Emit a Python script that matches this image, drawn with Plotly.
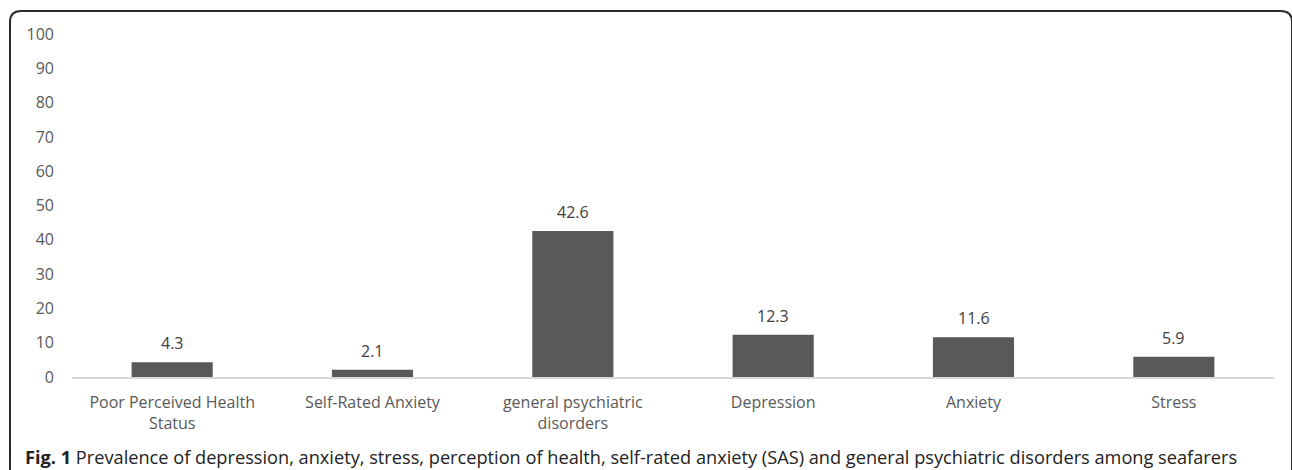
import plotly.graph_objects as go

# Prevalence (%) of each outcome
categories = [
    "Poor Perceived Health<br>Status",
    "Self-Rated Anxiety",
    "general psychiatric<br>disorders",
    "Depression",
    "Anxiety",
    "Stress",
]
prevalence = [4.3, 2.1, 42.6, 12.3, 11.6, 5.9]
y_ticks = [0, 10, 20, 30, 40, 50, 60, 70, 80, 90, 100]

W, H = 1292, 470
ML, MR, MT, MB = 72, 18, 34, 93
PW, PH = W - ML - MR, H - MT - MB

BAR = "#595959"
TXT = "#595959"
FONT = "Open Sans, Lato, sans-serif"


def px(x):
    return (x - ML) / PW


def py(y):
    return (H - MB - y) / PH


fig = go.Figure()
fig.add_trace(go.Bar(
    x=categories,
    y=prevalence,
    marker=dict(color=BAR, line=dict(width=0)),
    hoverinfo="skip",
))

# value labels above each bar
for c, v in zip(categories, prevalence):
    fig.add_annotation(
        x=c, y=v, text=f"{v:.1f}", showarrow=False,
        yanchor="bottom", yshift=6,
        font=dict(family=FONT, size=16, color="#404040"),
    )

# figure caption
fig.add_annotation(
    xref="paper", yref="paper", x=px(23), y=py(457),
    xanchor="left", yanchor="middle", showarrow=False,
    text="<b>Fig. 1</b> Prevalence of depression, anxiety, stress, perception of health, "
         "self-rated anxiety (SAS) and general psychiatric disorders among seafarers",
    font=dict(family=FONT, size=18.2, color="#222222"),
)

# rounded frame around the figure (open at the bottom)
r = 11
xl, xr, yt, yb = 10, 1292, 11, 471
path = (
    f"M {px(xl)} {py(yb)} L {px(xl)} {py(yt + r)} "
    f"Q {px(xl)} {py(yt)} {px(xl + r)} {py(yt)} "
    f"L {px(xr - r)} {py(yt)} "
    f"Q {px(xr)} {py(yt)} {px(xr)} {py(yt + r)} "
    f"L {px(xr)} {py(yb)}"
)
fig.add_shape(type="path", xref="paper", yref="paper", path=path,
              line=dict(color="#2b2b2b", width=2))

fig.update_layout(
    width=W, height=H,
    margin=dict(l=ML, r=MR, t=MT, b=MB, pad=0),
    paper_bgcolor="white", plot_bgcolor="white",
    bargap=0.595,
    showlegend=False,
    font=dict(family=FONT, size=16, color=TXT),
)
fig.update_xaxes(
    showgrid=False, zeroline=False,
    showline=True, linecolor="#d9d9d9", linewidth=1.5,
    ticks="", ticklabelstandoff=10,
    tickfont=dict(family=FONT, size=16, color=TXT),
)
fig.update_yaxes(
    range=[0, 100], tickvals=y_ticks, showgrid=False, zeroline=False,
    showline=False, ticks="", ticklabelstandoff=17,
    tickfont=dict(family=FONT, size=16, color=TXT),
)

fig.write_html("out.html")
